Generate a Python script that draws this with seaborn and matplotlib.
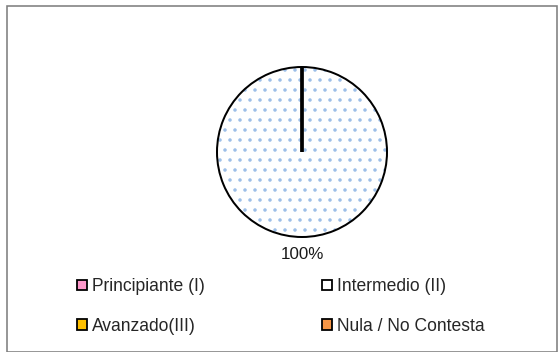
import matplotlib
matplotlib.use("Agg")
import matplotlib.pyplot as plt
from matplotlib.patches import Patch, Rectangle
import seaborn as sns

# Data
categories = ["Principiante (I)", "Intermedio (II)", "Avanzado(III)", "Nula / No Contesta"]
values = [0, 100, 0, 0]
face_colors = ["#ff99cc", "white", "#ffc000", "#f79646"]
hatches = ["..", "..", "xx", ""]

sns.set_style("white")
plt.rcParams["font.family"] = ["Liberation Sans", "DejaVu Sans"]
plt.rcParams["hatch.linewidth"] = 0.9

W, H = 558, 352
DPI = 120
px = 72 / DPI  # one pixel in points
fig = plt.figure(figsize=(W / DPI, H / DPI), dpi=DPI)

# outer frame
fig.patches.append(Rectangle((7 / W, 0), (W - 8) / W, (H - 6) / H, transform=fig.transFigure,
                             fill=False, edgecolor="#7f7f7f", linewidth=1.6 * px))

cx, cy, r = 302, 152, 85
ax = fig.add_axes([(cx - r) / W, (H - cy - r) / H, 2 * r / W, 2 * r / H])

# hatched fill (dot color comes from the edge colour)
wedges, _ = ax.pie(values, colors=face_colors, startangle=90, counterclock=False,
                   wedgeprops=dict(linewidth=0, edgecolor="#9dbfe8"))
for w, h in zip(wedges, hatches):
    w.set_hatch(h)

# black outlines + percentage label
outlines, _, _ = ax.pie(values, startangle=90, counterclock=False,
                        autopct=lambda p: f"{p:.0f}%" if p > 0 else "", pctdistance=1.21,
                        wedgeprops=dict(fill=False, edgecolor="black", linewidth=2 * px),
                        textprops=dict(fontsize=17 * px, color="#1a1a1a"))
for w, v in zip(outlines, values):
    if v == 0:
        w.set_linewidth(3 * px)
ax.set_xlim(-1, 1)
ax.set_ylim(-1, 1)
ax.axis("off")

# legend (row-major order for two columns)
order = [0, 2, 1, 3]
handles = [Patch(facecolor=face_colors[i], edgecolor="black", linewidth=1.8 * px) for i in order]
labels = [categories[i] for i in order]
fig.legend(handles, labels, ncol=2, frameon=False, fontsize=17.5 * px,
           loc="upper left", bbox_to_anchor=(77 / W, 1 - 278 / H),
           borderpad=0, borderaxespad=0, handlelength=0.55, handleheight=0.55,
           handletextpad=0.3, labelspacing=1.3, columnspacing=6.7)

fig.savefig("out.png", dpi=DPI)
